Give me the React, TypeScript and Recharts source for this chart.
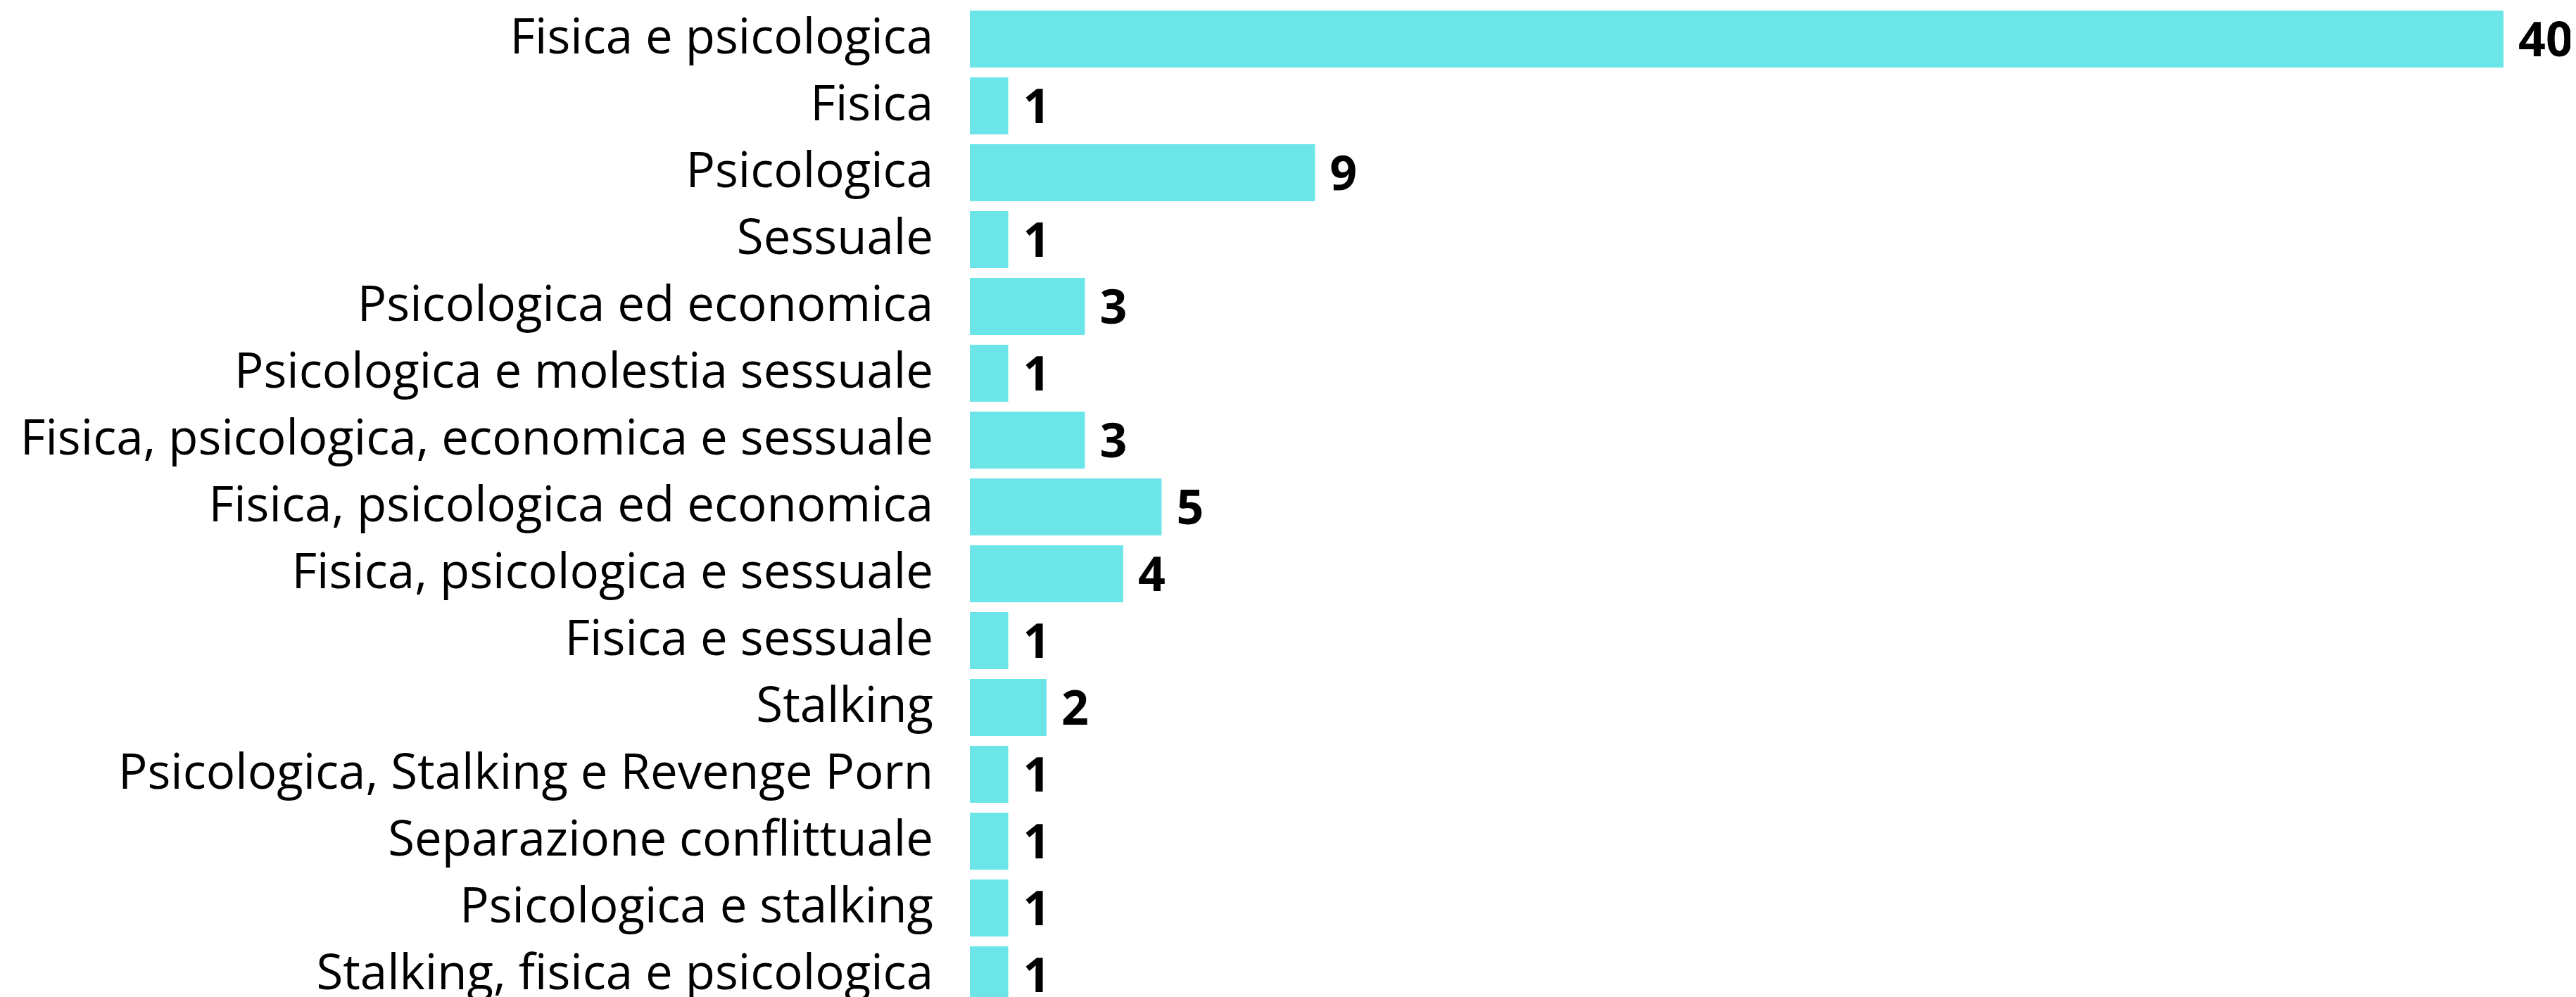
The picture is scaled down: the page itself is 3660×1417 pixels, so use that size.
import React from 'react';
import { BarChart, Bar, XAxis, YAxis, LabelList } from 'recharts';

const CATEGORIES = [
  'Fisica e psicologica',
  'Fisica',
  'Psicologica',
  'Sessuale',
  'Psicologica ed economica',
  'Psicologica e molestia sessuale',
  'Fisica, psicologica, economica e sessuale',
  'Fisica, psicologica ed economica',
  'Fisica, psicologica e sessuale',
  'Fisica e sessuale',
  'Stalking',
  'Psicologica, Stalking e Revenge Porn',
  'Separazione conflittuale',
  'Psicologica e stalking',
  'Stalking, fisica e psicologica',
];

const VALUES = [40, 1, 9, 1, 3, 1, 3, 5, 4, 1, 2, 1, 1, 1, 1];

const BAR_COLOR = '#6be5e8';
const FONT = '"Open Sans", sans-serif';

const data = CATEGORIES.map((name, i) => ({ name, value: VALUES[i] }));

export default function App() {
  return (
    <div style={{ height: 1409, overflow: 'hidden', fontFamily: FONT }}>
      <BarChart
        width={3652}
        height={1425}
        data={data}
        layout="vertical"
        margin={{ top: 0, right: 103, bottom: 0, left: 0 }}
      >
        <XAxis type="number" domain={[0, 40]} hide />
        <YAxis
          type="category"
          dataKey="name"
          width={1370}
          interval={0}
          axisLine={false}
          tickLine={false}
          tickSize={0}
          tickMargin={52}
          tick={{ fill: '#000', fontSize: 69, fontFamily: FONT, dy: -4 }}
        />
        <Bar dataKey="value" fill={BAR_COLOR} barSize={81} isAnimationActive={false}>
          <LabelList
            dataKey="value"
            position="right"
            offset={21}
            fill="#000"
            fontSize={68}
            fontWeight={700}
            fontFamily={FONT}
          />
        </Bar>
      </BarChart>
    </div>
  );
}
